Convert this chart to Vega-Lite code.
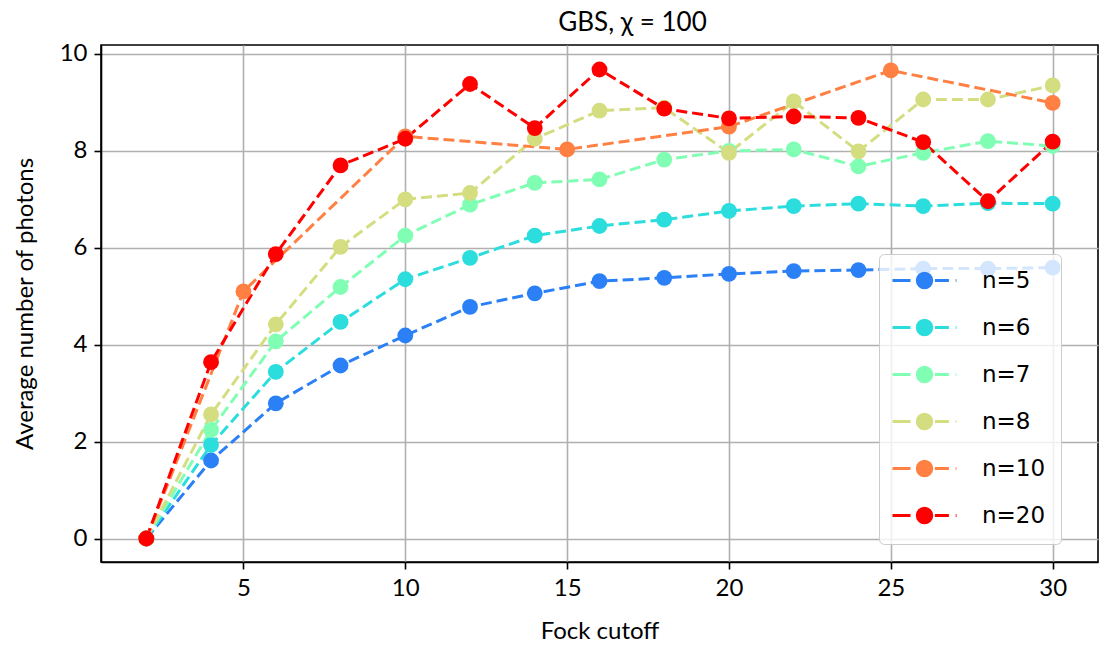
{
  "$schema": "https://vega.github.io/schema/vega-lite/v6.json",
  "width": 997,
  "height": 517,
  "autosize": {"type": "none"},
  "padding": {"left": 101, "top": 45, "right": 8, "bottom": 84},
  "background": "white",
  "title": {"text": "GBS, χ = 100", "fontSize": 26, "font": "Lato", "fontWeight": "normal", "color": "black", "anchor": "middle", "dx": 33, "offset": 6},
  "config": {
    "view": {"stroke": "black", "strokeWidth": 1.6},
    "axis": {
      "domainColor": "black", "domainWidth": 1.6,
      "tickColor": "black", "tickWidth": 1.6, "tickSize": 7,
      "labelPadding": 7, "labelFontSize": 24, "labelColor": "black", "labelFont": "Lato",
      "labelFlush": false, "labelOverlap": false,
      "gridColor": "#b0b0b0", "gridWidth": 1.6, "gridOpacity": 1,
      "titleFontSize": 24, "titleFontWeight": "normal", "titleColor": "black", "titleFont": "Lato"
    }
  },
  "data": {"values": [
    {"n": "n=5", "x": 2, "y": 0}, {"n": "n=5", "x": 4, "y": 1.61}, {"n": "n=5", "x": 6, "y": 2.79}, {"n": "n=5", "x": 8, "y": 3.57}, {"n": "n=5", "x": 10, "y": 4.19}, {"n": "n=5", "x": 12, "y": 4.78}, {"n": "n=5", "x": 14, "y": 5.06}, {"n": "n=5", "x": 16, "y": 5.31}, {"n": "n=5", "x": 18, "y": 5.38}, {"n": "n=5", "x": 20, "y": 5.46}, {"n": "n=5", "x": 22, "y": 5.52}, {"n": "n=5", "x": 24, "y": 5.54}, {"n": "n=5", "x": 26, "y": 5.57}, {"n": "n=5", "x": 28, "y": 5.57}, {"n": "n=5", "x": 30, "y": 5.59},
    {"n": "n=6", "x": 2, "y": 0}, {"n": "n=6", "x": 4, "y": 1.93}, {"n": "n=6", "x": 6, "y": 3.44}, {"n": "n=6", "x": 8, "y": 4.47}, {"n": "n=6", "x": 10, "y": 5.35}, {"n": "n=6", "x": 12, "y": 5.79}, {"n": "n=6", "x": 14, "y": 6.25}, {"n": "n=6", "x": 16, "y": 6.45}, {"n": "n=6", "x": 18, "y": 6.58}, {"n": "n=6", "x": 20, "y": 6.76}, {"n": "n=6", "x": 22, "y": 6.86}, {"n": "n=6", "x": 24, "y": 6.91}, {"n": "n=6", "x": 26, "y": 6.86}, {"n": "n=6", "x": 28, "y": 6.92}, {"n": "n=6", "x": 30, "y": 6.91},
    {"n": "n=7", "x": 2, "y": 0}, {"n": "n=7", "x": 4, "y": 2.24}, {"n": "n=7", "x": 6, "y": 4.07}, {"n": "n=7", "x": 8, "y": 5.19}, {"n": "n=7", "x": 10, "y": 6.25}, {"n": "n=7", "x": 12, "y": 6.89}, {"n": "n=7", "x": 14, "y": 7.34}, {"n": "n=7", "x": 16, "y": 7.41}, {"n": "n=7", "x": 18, "y": 7.82}, {"n": "n=7", "x": 20, "y": 8.0}, {"n": "n=7", "x": 22, "y": 8.03}, {"n": "n=7", "x": 24, "y": 7.68}, {"n": "n=7", "x": 26, "y": 7.96}, {"n": "n=7", "x": 28, "y": 8.2}, {"n": "n=7", "x": 30, "y": 8.1},
    {"n": "n=8", "x": 2, "y": 0}, {"n": "n=8", "x": 4, "y": 2.56}, {"n": "n=8", "x": 6, "y": 4.42}, {"n": "n=8", "x": 8, "y": 6.02}, {"n": "n=8", "x": 10, "y": 7.0}, {"n": "n=8", "x": 12, "y": 7.13}, {"n": "n=8", "x": 14, "y": 8.25}, {"n": "n=8", "x": 16, "y": 8.83}, {"n": "n=8", "x": 18, "y": 8.89}, {"n": "n=8", "x": 20, "y": 7.96}, {"n": "n=8", "x": 22, "y": 9.02}, {"n": "n=8", "x": 24, "y": 7.99}, {"n": "n=8", "x": 26, "y": 9.06}, {"n": "n=8", "x": 28, "y": 9.06}, {"n": "n=8", "x": 30, "y": 9.35},
    {"n": "n=10", "x": 2, "y": 0}, {"n": "n=10", "x": 5, "y": 5.1}, {"n": "n=10", "x": 10, "y": 8.3}, {"n": "n=10", "x": 15, "y": 8.03}, {"n": "n=10", "x": 20, "y": 8.5}, {"n": "n=10", "x": 25, "y": 9.66}, {"n": "n=10", "x": 30, "y": 8.99},
    {"n": "n=20", "x": 2, "y": 0}, {"n": "n=20", "x": 4, "y": 3.64}, {"n": "n=20", "x": 6, "y": 5.87}, {"n": "n=20", "x": 8, "y": 7.7}, {"n": "n=20", "x": 10, "y": 8.25}, {"n": "n=20", "x": 12, "y": 9.38}, {"n": "n=20", "x": 14, "y": 8.47}, {"n": "n=20", "x": 16, "y": 9.68}, {"n": "n=20", "x": 18, "y": 8.87}, {"n": "n=20", "x": 20, "y": 8.67}, {"n": "n=20", "x": 22, "y": 8.71}, {"n": "n=20", "x": 24, "y": 8.68}, {"n": "n=20", "x": 26, "y": 8.18}, {"n": "n=20", "x": 28, "y": 6.96}, {"n": "n=20", "x": 30, "y": 8.19}
  ]},
  "encoding": {
    "x": {"field": "x", "type": "quantitative", "scale": {"domain": [0.6, 31.4], "nice": false, "zero": false},
      "axis": {"values": [5, 10, 15, 20, 25, 30], "title": "Fock cutoff", "titleY": 76, "titleBaseline": "alphabetic"}},
    "y": {"field": "y", "type": "quantitative", "scale": {"domain": [-0.485, 10.185], "nice": false, "zero": false},
      "axis": {"values": [0, 2, 4, 6, 8, 10], "format": "d", "title": "Average number of photons", "titleX": -69, "titleBaseline": "alphabetic"}},
    "color": {"field": "n", "type": "nominal",
      "scale": {"domain": ["n=5", "n=6", "n=7", "n=8", "n=10", "n=20"], "range": ["#2b80f6", "#2bdddd", "#80ffb4", "#d4dd80", "#ff8042", "#ff0000"]},
      "legend": {
        "title": null, "orient": "none", "legendX": 778, "legendY": 209,
        "symbolType": "M-4,0L-1.75,0M1.3,0L3.05,0M3.9,0L4,0M-0.9,0A0.9,0.9 0 1,0 0.9,0A0.9,0.9 0 1,0 -0.9,0Z",
        "symbolSize": 256, "symbolStrokeWidth": 3, "symbolOpacity": 1, "symbolOffset": 19,
        "labelFontSize": 23, "labelFont": "DejaVu Sans", "labelColor": "black", "labelOffset": 46,
        "padding": 15, "rowPadding": 20,
        "fillColor": "rgba(255,255,255,0.8)", "strokeColor": "#cccccc", "cornerRadius": 5,
        "encode": {"symbols": {"update": {"stroke": {"scale": "color", "field": "value"}, "fill": {"scale": "color", "field": "value"}}}}
      }}
  },
  "layer": [
    {"mark": {"type": "line", "strokeDash": [11, 5], "strokeWidth": 3}},
    {"mark": {"type": "circle", "size": 250, "opacity": 1}}
  ]
}
